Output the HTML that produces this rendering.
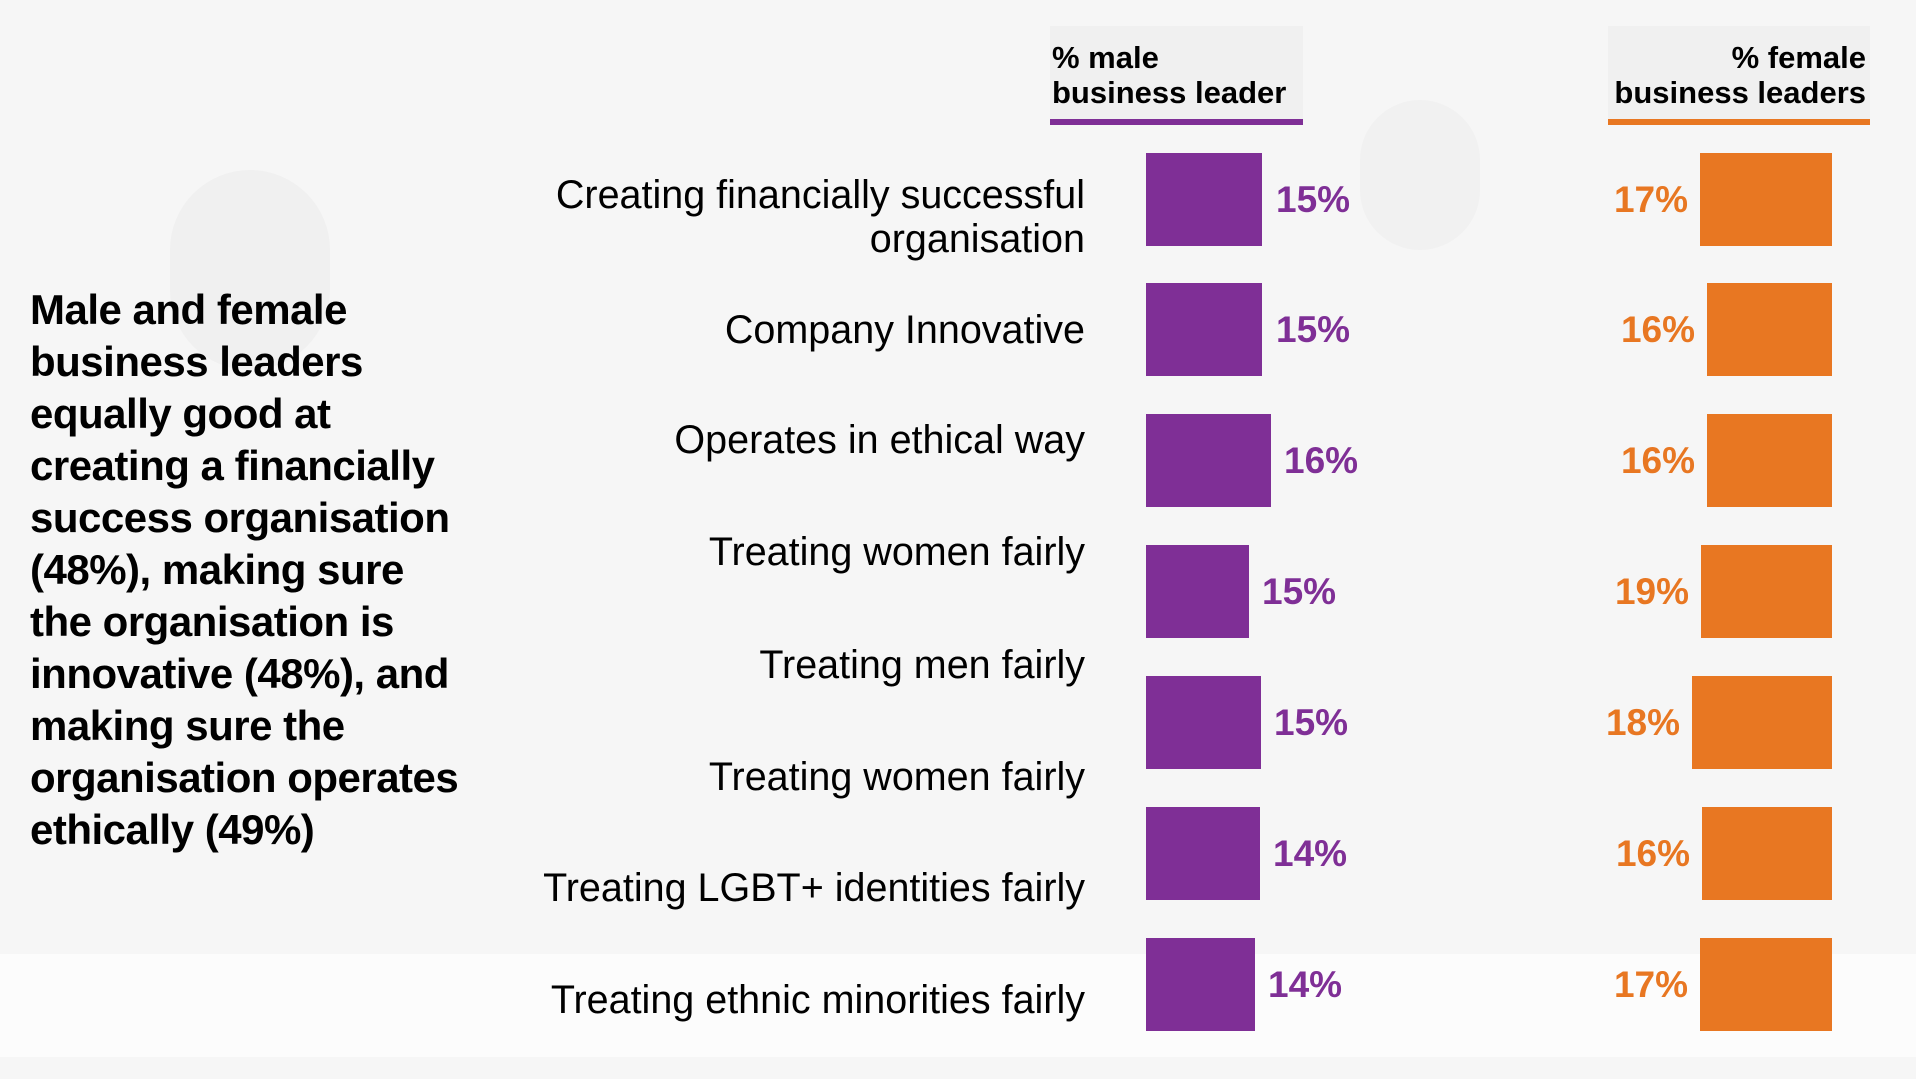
<!DOCTYPE html>
<html><head><meta charset="utf-8"><style>
body{margin:0;width:1916px;height:1079px;background:#f6f6f6;position:relative;overflow:hidden;font-family:"Liberation Sans",sans-serif;color:#000}
.a{position:absolute}
.strip{left:0;top:954px;width:1916px;height:103px;background:#fcfcfc}
.hd{background:#f0f0f0;font-weight:bold;font-size:31px;line-height:35px;box-sizing:border-box;padding-top:14px;white-space:nowrap}
.lbl{right:831px;text-align:right;font-size:39.5px;line-height:44px;white-space:nowrap}
.mb{background:#7f2f96;left:1146px;height:93px}
.fb{background:#e87722;height:93px}
.mv{color:#7f2f96;font-weight:bold;font-size:37px;line-height:93px}
.fv{color:#e87722;font-weight:bold;font-size:37px;line-height:93px;text-align:right}
.left{left:30px;top:284px;font-weight:bold;font-size:42px;line-height:52px;letter-spacing:-0.5px;white-space:nowrap}
</style></head><body>
<div class="a strip"></div>
<div class="a" style="left:170px;top:170px;width:160px;height:200px;border-radius:80px;background:#f0f0f0"></div>
<div class="a" style="left:1360px;top:100px;width:120px;height:150px;border-radius:60px;background:#f1f1f1"></div>
<div class="a hd" style="left:1050px;top:26px;width:253px;height:99px;padding-left:2px;border-bottom:6px solid #7f2f96">% male<br>business leader</div>
<div class="a hd" style="left:1608px;top:26px;width:262px;height:99px;text-align:right;padding-right:4px;border-bottom:6px solid #e87722">% female<br>business leaders</div>
<div class="a left">Male and female<br>business leaders<br>equally good at<br>creating a financially<br>success organisation<br>(48%), making sure<br>the organisation is<br>innovative (48%), and<br>making sure the<br>organisation operates<br>ethically (49%)</div>

<div class="a lbl" style="top:173px">Creating financially successful<br>organisation</div>
<div class="a lbl" style="top:308px">Company Innovative</div>
<div class="a lbl" style="top:418px">Operates in ethical way</div>
<div class="a lbl" style="top:530px">Treating women fairly</div>
<div class="a lbl" style="top:643px">Treating men fairly</div>
<div class="a lbl" style="top:755px">Treating women fairly</div>
<div class="a lbl" style="top:866px">Treating LGBT+ identities fairly</div>
<div class="a lbl" style="top:978px">Treating ethnic minorities fairly</div>

<div class="a mb" style="top:153px;width:116px"></div><div class="a mv" style="top:153px;left:1276px">15%</div>
<div class="a mb" style="top:283px;width:116px"></div><div class="a mv" style="top:283px;left:1276px">15%</div>
<div class="a mb" style="top:414px;width:125px"></div><div class="a mv" style="top:414px;left:1284px">16%</div>
<div class="a mb" style="top:545px;width:103px"></div><div class="a mv" style="top:545px;left:1262px">15%</div>
<div class="a mb" style="top:676px;width:115px"></div><div class="a mv" style="top:676px;left:1274px">15%</div>
<div class="a mb" style="top:807px;width:114px"></div><div class="a mv" style="top:807px;left:1273px">14%</div>
<div class="a mb" style="top:938px;width:109px"></div><div class="a mv" style="top:938px;left:1268px">14%</div>

<div class="a fb" style="top:153px;left:1700px;width:132px"></div><div class="a fv" style="top:153px;right:228px">17%</div>
<div class="a fb" style="top:283px;left:1707px;width:125px"></div><div class="a fv" style="top:283px;right:221px">16%</div>
<div class="a fb" style="top:414px;left:1707px;width:125px"></div><div class="a fv" style="top:414px;right:221px">16%</div>
<div class="a fb" style="top:545px;left:1701px;width:131px"></div><div class="a fv" style="top:545px;right:227px">19%</div>
<div class="a fb" style="top:676px;left:1692px;width:140px"></div><div class="a fv" style="top:676px;right:236px">18%</div>
<div class="a fb" style="top:807px;left:1702px;width:130px"></div><div class="a fv" style="top:807px;right:226px">16%</div>
<div class="a fb" style="top:938px;left:1700px;width:132px"></div><div class="a fv" style="top:938px;right:228px">17%</div>
</body></html>
